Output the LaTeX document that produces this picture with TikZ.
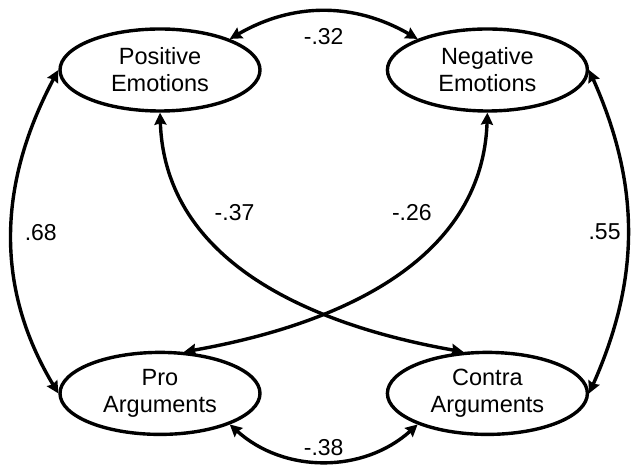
\documentclass[tikz,border=0pt]{standalone}
\usepackage{fontspec}
\setmainfont{Liberation Sans}
\usetikzlibrary{arrows.meta,positioning,shapes.geometric}
\tikzset{
    %Define standard arrow tip
    >={Stealth[length=12pt,width=12pt,inset=1.5pt]},
    %Define style for the ellipses
    faktor/.style={
           ellipse,
           draw=black, line width=3.4pt,
           minimum width=200pt,
           minimum height=82pt,
           align=center,
           font=\fontsize{23.5}{27}\selectfont},
    % Define arrow style
    pil/.style={
           <->,
           line width=3.4pt},
    % Define style for the coefficients
    koef/.style={
           font=\fontsize{23}{27}\selectfont}
}

\begin{document}
\begin{tikzpicture}[x=1pt, y=1pt, node distance=238pt and 124pt]
 \useasboundingbox (0,0) rectangle (634,466);
 %nodes
 \node[faktor] (pos) at (160,396) {Positive\\Emotions};
 \node[faktor, right=of pos] (neg) {Negative\\Emotions};
 \node[faktor, below=of pos] (pro) {Pro\\Arguments};
 \node[faktor, below=of neg] (contra) {Contra\\Arguments};
 % correlations between the factors
 \draw[pil] (pos.24) to[out=30, in=150] node[koef, below=12pt] {-.32} (neg.156);
 \draw[pil] (pro.-24) to[out=-42, in=-138] node[koef, above] {-.38} (contra.204);
 \draw[pil] (pos.west) to[out=242, in=121] node[koef, right=8pt] {.68} (pro.west);
 \draw[pil] (neg.east) to[out=-66, in=66] node[koef, left=2pt] {.55} (contra.east);
 % the two crossing ones
 \draw[pil] (pos.south) to[out=-88, in=170]
   node[koef, pos=0.3, above right=0pt and 10pt] {-.37} (contra.120);
 \draw[pil] (neg.south) to[out=-92, in=10]
   node[koef, pos=0.3, above left=0pt and 11pt] {-.26} (pro.60);
\end{tikzpicture}
\end{document}
